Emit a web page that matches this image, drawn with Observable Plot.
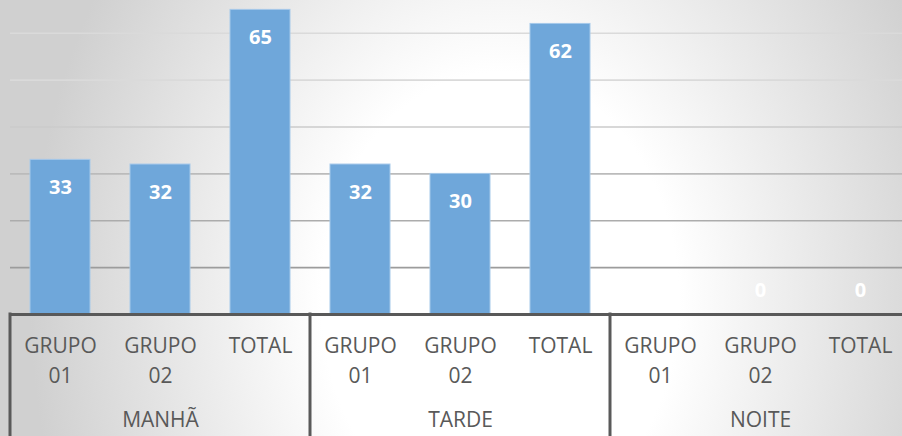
<!DOCTYPE html>
<html>
<head>
<meta charset="utf-8">
<script src="https://cdn.jsdelivr.net/npm/d3@7"></script>
<script src="https://cdn.jsdelivr.net/npm/@observablehq/plot@0.6"></script>
<style>
  html, body { margin: 0; padding: 0; background: #fff; }
  #chart {
    width: 902px; height: 436px; overflow: hidden; position: relative;
    background: radial-gradient(ellipse 470px 600px at 500px 300px, #ffffff 0%, #ffffff 38%, #d0d0d0 100%);
  }
  #chart svg { display: block; max-width: none !important; }
</style>
</head>
<body>
<div id="chart"></div>
<script>
// ---- data ----
const periodNames = ["MANHÃ", "TARDE", "NOITE"];
const periods = ["MANHÃ", "MANHÃ", "MANHÃ", "TARDE", "TARDE", "TARDE", "NOITE", "NOITE", "NOITE"];
const groups  = ["GRUPO\n01", "GRUPO\n02", "TOTAL", "GRUPO\n01", "GRUPO\n02", "TOTAL", "GRUPO\n01", "GRUPO\n02", "TOTAL"];
const values  = [33, 32, 65, 32, 30, 62, 0, 0, 0];
const gridTicks = [10, 20, 30, 40, 50, 60];

const data = values.map((v, i) => ({key: periods[i] + "|" + groups[i], period: periods[i], group: groups[i], value: v}));
const keys = data.map(d => d.key);
// label each period under its middle category
const periodCenters = periodNames.map(p => ({period: p, key: data.filter(d => d.period === p)[1].key}));

const axisColor = "#595959";
const font = "'Open Sans', sans-serif";
const gridShade = d3.interpolateRgb("#9c9c9c", "#dadada");

const chart = Plot.plot({
  width: 920,
  height: 436,
  marginTop: 0,
  marginBottom: 122,
  marginLeft: 10,
  marginRight: 10,
  style: {background: "transparent", fontFamily: font, overflow: "visible", maxWidth: "none"},
  x: {domain: keys, paddingInner: 0.4, paddingOuter: 0.2, axis: null},
  y: {domain: [0, 67], axis: null},
  marks: [
    Plot.ruleY(gridTicks, {stroke: d => gridShade((d - 10) / 40 > 1 ? 1 : (d - 10) / 40), strokeWidth: 1.6}),
    Plot.barY(data, {x: "key", y: "value", fill: "#6fa7da", stroke: "#a6c9ea", strokeWidth: 1}),
    Plot.text(data.filter(d => d.value > 0), {x: "key", y: "value", text: d => String(d.value), dy: 28,
      fill: "white", fontWeight: "bold", fontSize: 20}),
    Plot.text(data.filter(d => d.value === 0), {x: "key", y: "value", text: d => String(d.value), dy: -24,
      fill: "white", fontWeight: "bold", fontSize: 20}),
    Plot.ruleY([0], {stroke: axisColor, strokeWidth: 3}),
    Plot.text(data, {x: "key", text: "group", frameAnchor: "bottom", lineAnchor: "top", dy: 18,
      lineHeight: 1.4, fontSize: 21, fill: axisColor}),
    Plot.text(periodCenters, {x: "key", text: "period", frameAnchor: "bottom", lineAnchor: "middle", dy: 106,
      fontSize: 21, fill: axisColor})
  ]
});
chart.style.maxWidth = "none";

// separators of the category box, placed from the x scale
const xs = chart.scale("x");
const pos = keys.map(k => xs.apply(k));
const step = pos[1] - pos[0];
const gap = step - xs.bandwidth;
const bounds = [];
periodNames.forEach(p => {
  const first = keys.findIndex(k => k.startsWith(p + "|"));
  bounds.push(pos[first] - gap / 2);
});
const lastIdx = keys.length - 1;
bounds.push(pos[lastIdx] + xs.bandwidth + gap / 2);
const y0 = chart.scale("y").apply(0);
d3.select(chart).append("g")
  .selectAll("line").data(bounds).join("line")
  .attr("x1", d => d).attr("x2", d => d)
  .attr("y1", y0 - 1.5).attr("y2", 436)
  .attr("stroke", axisColor).attr("stroke-width", 3);

document.getElementById("chart").appendChild(chart);
</script>
</body>
</html>
